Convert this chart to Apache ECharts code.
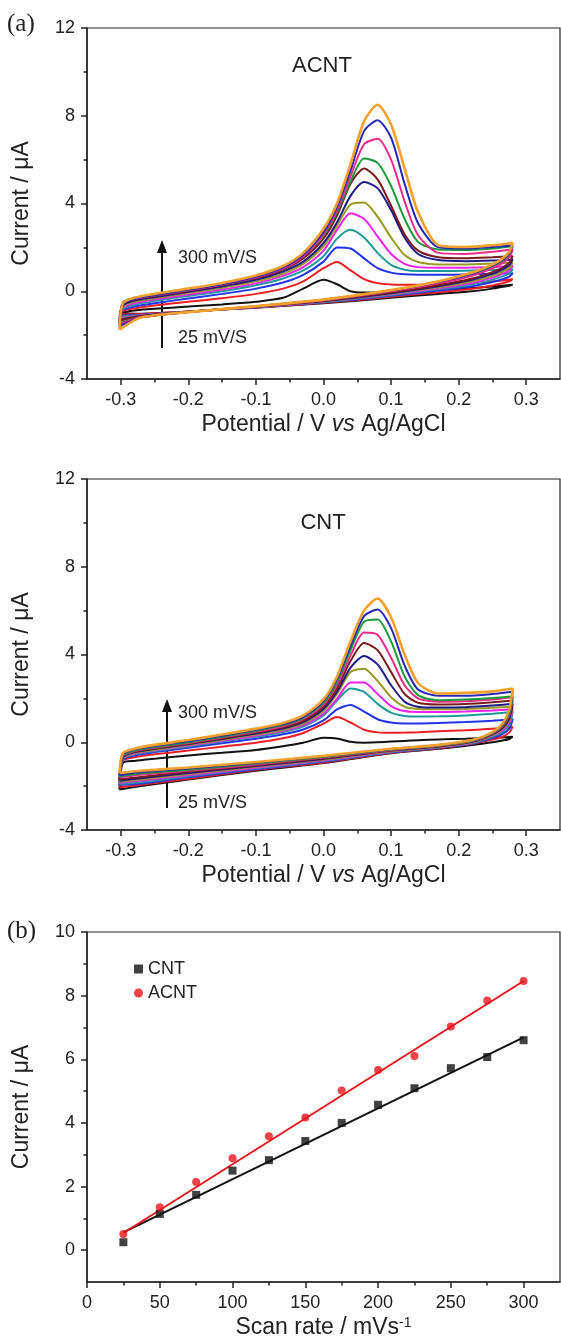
<!DOCTYPE html>
<html><head><meta charset="utf-8">
<script src="https://cdn.jsdelivr.net/npm/echarts@6/dist/echarts.min.js"></script>
<style>html,body{margin:0;padding:0;background:#fff}#c{width:561px;height:1342px}</style>
</head><body><div id="c"></div>
<script>
// ---------- DATA ----------
const scanRates = [25, 50, 75, 100, 125, 150, 175, 200, 225, 250, 275, 300];
const potentialFwd = [-0.302, -0.297, -0.28, -0.25, -0.2, -0.15, -0.1, -0.06, -0.03, 0, 0.02, 0.04, 0.06, 0.08, 0.1, 0.12, 0.14, 0.17, 0.21, 0.25, 0.28];
const potentialRev = [0.275, 0.265, 0.25, 0.22, 0.17, 0.1, 0.0, -0.1, -0.2, -0.27, -0.302];

const acntColors = ['#111111','#ee1d23','#2233ee','#1c9a9a','#ee22ee','#999922','#1b1b85','#7a1a1a','#1a9a3a','#ee2a8a','#2626b8','#f5a02a'];
const cntColors  = ['#111111','#ee1d23','#2233ee','#1c9a9a','#ee22ee','#999922','#1b1b85','#7a1a1a','#ee2a8a','#1a9a3a','#2626b8','#f5a02a'];

const acntForward = [
 [-1.0,-0.95,-0.88,-0.8,-0.7,-0.6,-0.48,-0.3,0.12,0.52,0.32,0.0,-0.06,-0.06,-0.04,-0.01,0.02,0.07,0.13,0.22,0.3],
 [-1.05,-0.9,-0.78,-0.65,-0.48,-0.32,-0.12,0.12,0.45,1.05,1.33,0.95,0.55,0.37,0.31,0.3,0.3,0.32,0.36,0.45,0.55],
 [-1.1,-0.85,-0.7,-0.55,-0.33,-0.12,0.12,0.4,0.75,1.35,2.0,1.95,1.5,1.05,0.85,0.77,0.75,0.75,0.77,0.8,0.82],
 [-1.15,-0.8,-0.62,-0.45,-0.22,0.0,0.27,0.58,0.95,1.6,2.4,2.8,2.45,1.75,1.2,0.98,0.92,0.92,0.94,0.97,1.0],
 [-1.2,-0.75,-0.55,-0.38,-0.15,0.08,0.36,0.7,1.1,1.85,2.8,3.55,3.3,2.5,1.7,1.25,1.1,1.07,1.07,1.1,1.15],
 [-1.25,-0.7,-0.48,-0.32,-0.08,0.16,0.45,0.8,1.25,2.05,3.0,3.95,4.05,3.4,2.45,1.65,1.33,1.22,1.22,1.26,1.3],
 [-1.3,-0.65,-0.42,-0.27,-0.02,0.22,0.52,0.9,1.35,2.2,3.15,4.35,4.98,4.7,3.7,2.45,1.7,1.42,1.37,1.4,1.45],
 [-1.35,-0.6,-0.38,-0.22,0.02,0.28,0.6,1.0,1.5,2.4,3.45,4.9,5.6,5.1,3.9,2.6,1.85,1.55,1.5,1.55,1.6],
 [-1.45,-0.5,-0.3,-0.15,0.1,0.35,0.68,1.08,1.6,2.55,3.6,5.0,6.05,5.85,4.8,3.3,2.25,1.9,1.88,1.95,2.05],
 [-1.5,-0.55,-0.35,-0.2,0.05,0.3,0.63,1.03,1.58,2.6,3.7,5.25,6.7,6.95,6.0,4.1,2.55,1.75,1.7,1.8,1.9],
 [-1.6,-0.6,-0.35,-0.18,0.07,0.32,0.66,1.08,1.65,2.7,3.85,5.5,7.3,7.8,7.0,4.9,3.1,2.0,1.95,2.02,2.1],
 [-1.75,-0.55,-0.3,-0.12,0.12,0.38,0.72,1.15,1.75,2.85,4.0,5.8,7.75,8.5,7.6,5.6,3.6,2.1,2.02,2.1,2.2]
];
const acntReverse = [
 [0.25,0.2,0.12,0.0,-0.12,-0.3,-0.55,-0.75,-0.92,-1.02,-1.0],
 [0.45,0.37,0.26,0.11,-0.05,-0.25,-0.53,-0.74,-0.92,-1.04,-1.05],
 [0.67,0.55,0.42,0.23,0.03,-0.21,-0.5,-0.73,-0.93,-1.07,-1.1],
 [0.82,0.68,0.53,0.31,0.09,-0.17,-0.49,-0.72,-0.93,-1.09,-1.15],
 [0.95,0.79,0.62,0.38,0.14,-0.14,-0.47,-0.72,-0.93,-1.1,-1.2],
 [1.07,0.89,0.7,0.45,0.18,-0.11,-0.46,-0.71,-0.94,-1.12,-1.25],
 [1.2,1.0,0.79,0.52,0.23,-0.09,-0.45,-0.71,-0.94,-1.13,-1.3],
 [1.3,1.08,0.87,0.58,0.27,-0.06,-0.43,-0.7,-0.94,-1.14,-1.35],
 [1.68,1.4,1.13,0.78,0.4,0.02,-0.39,-0.69,-0.95,-1.19,-1.45],
 [1.55,1.29,1.04,0.71,0.36,0.0,-0.41,-0.69,-0.95,-1.17,-1.5],
 [1.72,1.44,1.17,0.81,0.42,0.03,-0.39,-0.68,-0.95,-1.19,-1.6],
 [1.8,1.5,1.22,0.85,0.45,0.05,-0.38,-0.68,-0.95,-1.2,-1.75]
];

const cntForward = [
 [-2.15,-0.95,-0.85,-0.75,-0.6,-0.48,-0.35,-0.18,-0.02,0.2,0.17,0.02,-0.02,0.0,0.03,0.06,0.09,0.13,0.16,0.2,0.25],
 [-2.05,-0.85,-0.68,-0.55,-0.38,-0.2,-0.02,0.18,0.42,0.85,1.15,0.9,0.57,0.45,0.43,0.44,0.46,0.5,0.55,0.62,0.7],
 [-1.95,-0.8,-0.6,-0.45,-0.25,-0.05,0.16,0.36,0.58,1.0,1.5,1.7,1.4,1.05,0.9,0.86,0.86,0.88,0.92,0.98,1.05],
 [-1.9,-0.75,-0.55,-0.4,-0.19,0.03,0.25,0.47,0.72,1.22,1.9,2.45,2.3,1.75,1.35,1.2,1.17,1.18,1.22,1.3,1.38],
 [-1.85,-0.72,-0.52,-0.36,-0.15,0.07,0.3,0.52,0.78,1.3,1.98,2.72,2.72,2.2,1.65,1.42,1.38,1.38,1.4,1.45,1.5],
 [-1.8,-0.7,-0.5,-0.34,-0.12,0.1,0.35,0.57,0.85,1.42,2.2,3.2,3.35,2.8,2.05,1.62,1.52,1.5,1.52,1.57,1.62],
 [-1.75,-0.68,-0.46,-0.3,-0.08,0.15,0.4,0.63,0.92,1.52,2.3,3.4,3.93,3.55,2.6,1.85,1.62,1.58,1.6,1.67,1.75],
 [-1.7,-0.65,-0.43,-0.28,-0.06,0.18,0.44,0.68,0.98,1.62,2.45,3.7,4.52,4.2,3.2,2.2,1.8,1.72,1.74,1.82,1.9],
 [-1.6,-0.62,-0.4,-0.25,-0.03,0.22,0.48,0.73,1.05,1.72,2.6,3.95,5.0,4.9,3.85,2.6,2.0,1.85,1.87,1.95,2.05],
 [-1.55,-0.6,-0.38,-0.22,0.0,0.25,0.52,0.78,1.1,1.8,2.75,4.2,5.5,5.6,4.6,3.0,2.15,1.92,1.95,2.02,2.1],
 [-1.5,-0.55,-0.33,-0.17,0.05,0.3,0.57,0.83,1.15,1.88,2.88,4.38,5.75,6.05,5.2,3.5,2.4,2.12,2.12,2.2,2.3],
 [-1.4,-0.5,-0.3,-0.12,0.1,0.35,0.62,0.88,1.22,1.95,3.0,4.6,6.0,6.55,5.7,4.0,2.7,2.22,2.25,2.32,2.45]
];
const cntReverse = [
 [0.15,0.08,0.0,-0.12,-0.3,-0.5,-0.95,-1.3,-1.7,-2.0,-2.15],
 [0.45,0.25,0.12,-0.08,-0.27,-0.48,-0.92,-1.26,-1.66,-1.94,-2.05],
 [0.62,0.38,0.2,-0.06,-0.25,-0.46,-0.88,-1.23,-1.6,-1.88,-1.95],
 [0.8,0.48,0.26,-0.04,-0.24,-0.44,-0.85,-1.19,-1.55,-1.82,-1.9],
 [0.9,0.55,0.3,-0.02,-0.22,-0.42,-0.82,-1.16,-1.5,-1.76,-1.85],
 [1.0,0.6,0.33,0.0,-0.21,-0.4,-0.79,-1.12,-1.45,-1.7,-1.8],
 [1.08,0.65,0.36,0.02,-0.19,-0.38,-0.76,-1.08,-1.4,-1.64,-1.75],
 [1.18,0.7,0.38,0.04,-0.18,-0.36,-0.73,-1.05,-1.35,-1.58,-1.7],
 [1.27,0.74,0.4,0.06,-0.16,-0.35,-0.7,-1.01,-1.3,-1.48,-1.6],
 [1.32,0.77,0.42,0.07,-0.15,-0.33,-0.67,-0.97,-1.25,-1.42,-1.55],
 [1.42,0.81,0.43,0.09,-0.13,-0.31,-0.64,-0.93,-1.2,-1.36,-1.5],
 [1.5,0.85,0.45,0.1,-0.12,-0.3,-0.62,-0.9,-1.15,-1.3,-1.4]
];

const cntPeak  = [0.25, 1.14, 1.74, 2.5, 2.83, 3.43, 4.0, 4.57, 5.09, 5.72, 6.07, 6.6];
const acntPeak = [0.51, 1.35, 2.14, 2.89, 3.58, 4.17, 5.02, 5.66, 6.1, 7.03, 7.85, 8.46];
const cntFit  = [[25, 0.56], [300, 6.69]];
const acntFit = [[25, 0.54], [300, 8.46]];

const cvTicksX  = [-0.3, -0.2, -0.1, 0.0, 0.1, 0.2, 0.3];
const cvMinorX  = [-0.25, -0.15, -0.05, 0.05, 0.15, 0.25];
const rateTicksX = [0, 50, 100, 150, 200, 250, 300];
const rateMinorX = [25, 75, 125, 175, 225, 275];
const peakTicksY = [0, 2, 4, 6, 8, 10];
const peakMinorY = [1, 3, 5, 7, 9];

// ---------- CHART ----------
const SANS = "'Liberation Sans', Arial, sans-serif";
const SERIF = "'Liberation Serif', 'Times New Roman', serif";
const INK = '#222';
const chart = echarts.init(document.getElementById('c'), null, {renderer: 'canvas'});

const grids = [
  {left: 87, top: 28, width: 473, height: 351},
  {left: 87, top: 479, width: 473, height: 351},
  {left: 87, top: 932, width: 473, height: 350}
].map(g => Object.assign({show: true, borderColor: INK, borderWidth: 1.2, backgroundColor: 'transparent'}, g));

const lineStyle = {color: INK, width: 1.5};
const labelStyle = {color: INK, fontSize: 18, fontFamily: SANS, margin: 12};
const nameStyle = {color: INK, fontSize: 23, fontFamily: SANS};

function mainX(gi, min, max, ticks, fmt, name, rich) {
  return {
    type: 'value', gridIndex: gi, position: 'bottom', min: min, max: max,
    axisLine: {show: true, onZero: false, lineStyle: lineStyle},
    axisTick: {show: true, length: 6, customValues: ticks, lineStyle: lineStyle},
    axisLabel: Object.assign({customValues: ticks, formatter: fmt}, labelStyle),
    splitLine: {show: false},
    name: name, nameLocation: 'middle', nameGap: 34,
    nameTextStyle: Object.assign({rich: rich}, nameStyle)
  };
}
function minorX(gi, min, max, ticks) {
  return {
    type: 'value', gridIndex: gi, position: 'bottom', min: min, max: max,
    axisLine: {show: false, onZero: false}, axisLabel: {show: false}, splitLine: {show: false},
    axisTick: {show: true, length: 3.5, customValues: ticks, lineStyle: lineStyle}
  };
}
const italicRich = {i: {fontStyle: 'italic', fontSize: 23, fontFamily: SANS, color: INK}};
const supRich = {s: {fontSize: 14, fontFamily: SANS, color: INK, verticalAlign: 'top', lineHeight: 14}};
const cvFmt = v => v.toFixed(1);

const xAxis = [
  mainX(0, -0.35, 0.35, cvTicksX, cvFmt, 'Potential / V {i|vs} Ag/AgCl', italicRich),
  minorX(0, -0.35, 0.35, cvMinorX),
  mainX(1, -0.35, 0.35, cvTicksX, cvFmt, 'Potential / V {i|vs} Ag/AgCl', italicRich),
  minorX(1, -0.35, 0.35, cvMinorX),
  mainX(2, 0, 325, rateTicksX, v => String(v), 'Scan rate / mVs{s|-1}', supRich),
  minorX(2, 0, 325, rateMinorX)
];

function cvY(gi) {
  return {
    type: 'value', gridIndex: gi, position: 'left', min: -4, max: 12, interval: 4,
    axisLine: {show: true, onZero: false, lineStyle: lineStyle},
    axisTick: {show: true, length: 6, lineStyle: lineStyle},
    minorTick: {show: true, splitNumber: 2, length: 3.5, lineStyle: lineStyle},
    axisLabel: labelStyle, splitLine: {show: false}, minorSplitLine: {show: false},
    name: 'Current / \u03bcA', nameLocation: 'middle', nameGap: 54, nameTextStyle: nameStyle
  };
}
const yAxis = [
  cvY(0), cvY(1),
  {
    type: 'value', gridIndex: 2, position: 'left', min: -1, max: 10,
    axisLine: {show: true, onZero: false, lineStyle: lineStyle},
    axisTick: {show: true, length: 6, customValues: peakTicksY, lineStyle: lineStyle},
    axisLabel: Object.assign({customValues: peakTicksY}, labelStyle),
    splitLine: {show: false},
    name: 'Current / \u03bcA', nameLocation: 'middle', nameGap: 54, nameTextStyle: nameStyle
  },
  {
    type: 'value', gridIndex: 2, position: 'left', min: -1, max: 10,
    axisLine: {show: false, onZero: false}, axisLabel: {show: false}, splitLine: {show: false},
    axisTick: {show: true, length: 3.5, customValues: peakMinorY, lineStyle: lineStyle}
  }
];

const series = [];
function addCV(fwd, rev, colors, panel, tag) {
  fwd.forEach((f, k) => {
    const pts = f.map((v, i) => [potentialFwd[i], v]).concat(rev[k].map((v, i) => [potentialRev[i], v]));
    series.push({
      type: 'line', name: tag + ' ' + scanRates[k] + ' mV/s',
      xAxisIndex: panel * 2, yAxisIndex: panel,
      data: pts, showSymbol: false, smooth: 0.25, silent: true,
      lineStyle: {color: colors[k], width: k === 11 ? 2.6 : 2},
      z: 2 + k
    });
  });
}
addCV(acntForward, acntReverse, acntColors, 0, 'ACNT');
addCV(cntForward, cntReverse, cntColors, 1, 'CNT');

series.push(
  {type: 'line', name: 'CNT fit', xAxisIndex: 4, yAxisIndex: 2, data: cntFit, showSymbol: false,
   lineStyle: {color: '#111', width: 2}, z: 3},
  {type: 'line', name: 'ACNT fit', xAxisIndex: 4, yAxisIndex: 2, data: acntFit, showSymbol: false,
   lineStyle: {color: '#e8141c', width: 2}, z: 3},
  {type: 'scatter', name: 'CNT', xAxisIndex: 4, yAxisIndex: 2, symbol: 'rect', symbolSize: 8,
   data: scanRates.map((r, i) => [r, cntPeak[i]]), itemStyle: {color: '#111'}, z: 5},
  {type: 'scatter', name: 'ACNT', xAxisIndex: 4, yAxisIndex: 2, symbol: 'circle', symbolSize: 8,
   data: scanRates.map((r, i) => [r, acntPeak[i]]), itemStyle: {color: '#e8141c'}, z: 5}
);

function txt(x, y, s, size, fam, align) {
  return {type: 'text', x: x, y: y, silent: true,
    style: {text: s, fontSize: size, fontFamily: fam, fill: INK, align: align || 'left', verticalAlign: 'middle'}};
}
function arrow(x, yBottom, yTip) {
  return [
    {type: 'line', silent: true, shape: {x1: x, y1: yBottom, x2: x, y2: yTip + 10}, style: {stroke: '#111', lineWidth: 2}},
    {type: 'polygon', silent: true, shape: {points: [[x - 5, yTip + 13], [x, yTip], [x + 5, yTip + 13]]}, style: {fill: '#111'}}
  ];
}

const graphic = [
  txt(7, 24, '(a)', 25, SERIF),
  txt(7, 931, '(b)', 25, SERIF),
  txt(322, 66, 'ACNT', 22, SANS, 'center'),
  txt(323, 523, 'CNT', 22, SANS, 'center'),
  txt(178, 258, '300 mV/S', 18, SANS),
  txt(178, 338, '25 mV/S', 18, SANS),
  txt(178, 713, '300 mV/S', 18, SANS),
  txt(178, 803, '25 mV/S', 18, SANS)
].concat(arrow(162, 348, 240), arrow(167, 808, 699));

chart.setOption({
  animation: false,
  backgroundColor: '#fff',
  grid: grids,
  xAxis: xAxis,
  yAxis: yAxis,
  legend: {
    data: [{name: 'CNT', icon: 'rect'}, {name: 'ACNT', icon: 'circle'}],
    orient: 'vertical', left: 129, top: 955, itemWidth: 9, itemHeight: 9, itemGap: 6,
    selectedMode: false,
    textStyle: {color: INK, fontSize: 18, fontFamily: SANS, padding: [0, 0, 0, 0]}
  },
  series: series,
  graphic: graphic
});
</script>
</body></html>
